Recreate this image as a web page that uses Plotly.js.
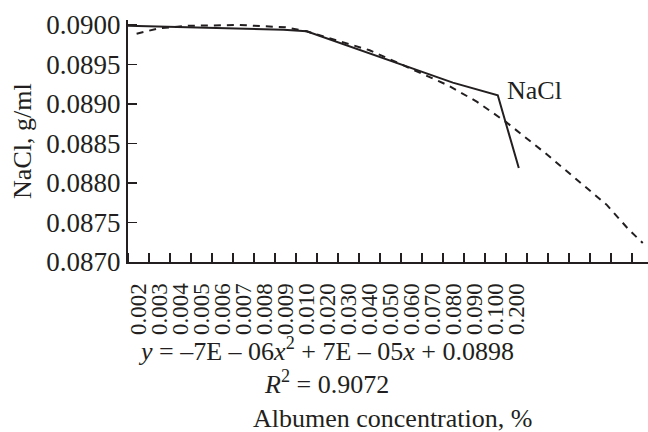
<!DOCTYPE html>
<html>
<head>
<meta charset="utf-8">
<script src="https://cdn.plot.ly/plotly-3.0.1.min.js"></script>
<style>html,body{margin:0;padding:0;background:#fff;}#chart{width:648px;height:432px;}</style>
</head>
<body>
<div id="chart"></div>
<script>
// Category tick labels (albumen concentration, %)
const labels = ["0.002","0.003","0.004","0.005","0.006","0.007","0.008","0.009","0.010","0.020","0.030","0.040","0.050","0.060","0.070","0.080","0.090","0.100","0.200"];
const labelPos = [1,2,3,4,5,6,7,8,9,10,11,12,13,14,15,16,17,18,19];

// Measured NaCl series (solid line), x in category units
const solidX = [0.49, 3.9, 7.9, 9.0, 15.96, 18.1, 19.1];
const solidY = [0.08999, 0.08997, 0.08994, 0.08992, 0.08927, 0.08911, 0.08819];

// Polynomial trend line (dashed)
const trendX = [0.91, 2.0, 3.4, 5.8, 8.0, 9.0, 12.0, 14.4, 15.7, 17.1, 18.5, 20.4, 22.1, 23.3, 24.3, 25.0];
const trendY = [0.08989, 0.08996, 0.08999, 0.09000, 0.08997, 0.08992, 0.08968, 0.08940, 0.08924, 0.08903, 0.08877, 0.08837, 0.08799, 0.08772, 0.08742, 0.08724];

const yTicks = [0.0870, 0.0875, 0.0880, 0.0885, 0.0890, 0.0895, 0.0900];

const FONT = "Liberation Serif";
const INK = "#231f20";

const traces = [
  {x: trendX, y: trendY, type: "scatter", mode: "lines",
   line: {color: INK, width: 2, dash: "7px,6px"}, hoverinfo: "skip"},
  {x: solidX, y: solidY, type: "scatter", mode: "lines",
   line: {color: INK, width: 2}, hoverinfo: "skip"}
];

const layout = {
  width: 648, height: 432,
  margin: {l: 128, r: 0, t: 20, b: 170},
  paper_bgcolor: "#fff", plot_bgcolor: "#fff",
  showlegend: false,
  font: {family: FONT, color: INK, size: 26},
  xaxis: {
    range: [0.5, 25.25], showgrid: false, zeroline: false,
    showline: true, linecolor: INK, linewidth: 2,
    tickmode: "array", tickvals: labelPos, ticktext: labels,
    ticks: "", tickangle: -90, ticklabelstandoff: 10,
    tickfont: {family: FONT, size: 23, color: INK},
    minor: {ticks: "inside", tick0: 0.5, dtick: 1, ticklen: 9, tickwidth: 1.5, tickcolor: INK, showgrid: false}
  },
  yaxis: {
    range: [0.0870, 0.090063], showgrid: false, zeroline: false,
    showline: true, linecolor: INK, linewidth: 2,
    tickmode: "array", tickvals: yTicks, tickformat: ".4f",
    ticks: "inside", ticklen: 9, tickwidth: 1.5, tickcolor: INK,
    tickfont: {family: FONT, size: 27, color: INK}
  },
  annotations: [
    {text: "NaCl", xref: "x", yref: "y", x: 18.44, y: 0.089177, xanchor: "left", yanchor: "middle",
     showarrow: false, font: {family: FONT, size: 26, color: INK}},
    {text: "NaCl, g/ml", xref: "paper", yref: "paper", x: -0.204, y: 0.5, textangle: -90,
     xanchor: "center", yanchor: "middle", showarrow: false, font: {family: FONT, size: 26, color: INK}},
    {text: "<i>y</i> = –7E – 06<i>x</i><sup>2</sup> + 7E – 05<i>x</i> + 0.0898", xref: "paper", yref: "paper",
     x: 0.381, y: -0.36, xanchor: "center", yanchor: "middle", showarrow: false,
     font: {family: FONT, size: 26, color: INK}},
    {text: "<i>R</i><sup>2</sup> = 0.9072", xref: "paper", yref: "paper",
     x: 0.381, y: -0.496, xanchor: "center", yanchor: "middle", showarrow: false,
     font: {family: FONT, size: 26, color: INK}},
    {text: "Albumen concentration, %", xref: "paper", yref: "paper",
     x: 0.508, y: -0.648, xanchor: "center", yanchor: "middle", showarrow: false,
     font: {family: FONT, size: 26, color: INK}}
  ]
};

Plotly.newPlot("chart", traces, layout, {staticPlot: true, displayModeBar: false});
</script>
</body>
</html>
